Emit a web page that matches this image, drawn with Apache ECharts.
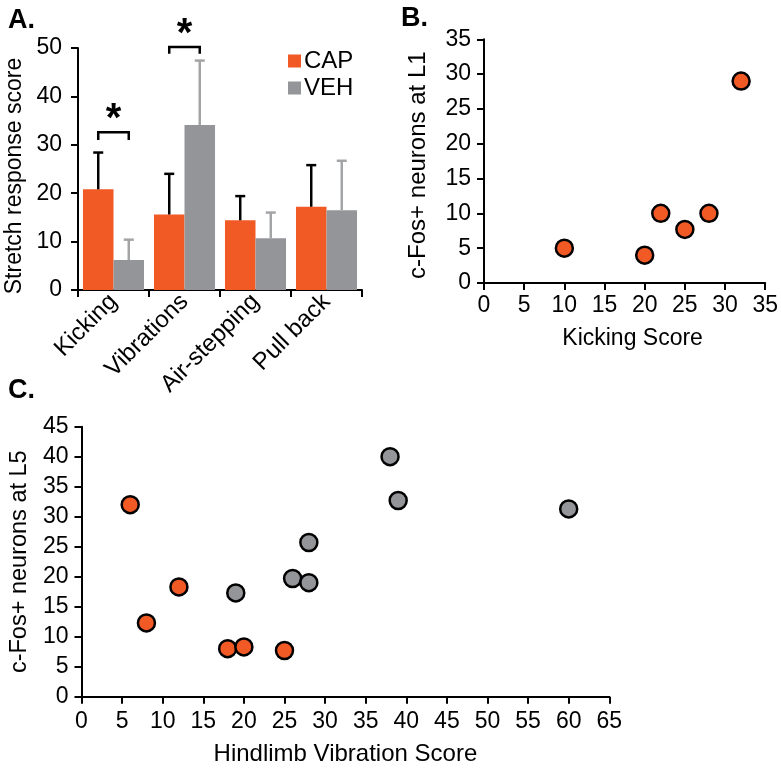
<!DOCTYPE html>
<html>
<head>
<meta charset="utf-8">
<script src="https://cdn.jsdelivr.net/npm/echarts@6/dist/echarts.min.js"></script>
<style>
html,body{margin:0;padding:0;background:#fff;}
#chart{width:781px;height:768px;}
</style>
</head>
<body>
<div id="chart"></div>
<script>
// ---- Data ----
const categories = ['Kicking', 'Vibrations', 'Air-stepping', 'Pull back'];
const capMeans = [20.8, 15.6, 14.4, 17.2];
const capErrTop = [28.4, 24.0, 19.4, 25.8];
const vehMeans = [6.2, 34.1, 10.7, 16.5];
const vehErrTop = [10.4, 47.4, 16.0, 26.7];
const sigCats = [0, 1];
const sigBracketY = [32.6, 50.2];
const sigLegY = [31.0, 48.8];
const sigStarY = [37.2, 54.8];

const kickX = [10, 20, 22, 25, 28, 32];
const kickY = [5, 4, 10, 7.7, 10, 29];

const capVibX = [6, 8, 12, 18, 20, 25];
const capVibY = [32, 12.3, 18.3, 8, 8.3, 7.7];
const vehVibX = [19, 26, 28, 28, 38, 39, 60];
const vehVibY = [17.3, 19.7, 25.7, 19, 40, 32.7, 31.3];

// ---- Style ----
const ORANGE = '#F15A24';
const GRAY = '#939598';
const GRAY_ERR = '#A3A4A6';
const FONT = 'Liberation Sans, Arial, sans-serif';
const GAP = 0.14;

const axisCommon = {
  axisLine: { show: true, lineStyle: { color: '#000', width: 2 } },
  axisTick: { show: true, length: 7, lineStyle: { color: '#000', width: 2 } },
  splitLine: { show: false },
  axisLabel: { color: '#000', fontSize: 23, fontFamily: FONT, margin: 11 },
  nameTextStyle: { color: '#000', fontSize: 21, fontFamily: FONT }
};

function errRender(isCap, color) {
  return function (params, api) {
    const c = api.coord([api.value(0), api.value(1)]);
    const t = api.coord([api.value(0), api.value(2)]);
    const band = api.size([1, 0])[0];
    const off = band * (1 - GAP) / 4 * (isCap ? -1 : 1);
    const x = c[0] + off;
    return {
      type: 'group',
      children: [
        { type: 'line', shape: { x1: x, y1: c[1], x2: x, y2: t[1] }, style: { stroke: color, lineWidth: 2.5 } },
        { type: 'line', shape: { x1: x - 5, y1: t[1], x2: x + 5, y2: t[1] }, style: { stroke: color, lineWidth: 2.5 } }
      ]
    };
  };
}

function sigRender(params, api) {
  const cat = api.value(0);
  const top = api.coord([cat, api.value(1)]);
  const leg = api.coord([cat, api.value(2)]);
  const star = api.coord([cat, api.value(3)]);
  const band = api.size([1, 0])[0];
  const off = band * (1 - GAP) / 4;
  const x1 = top[0] - off, x2 = top[0] + off;
  return {
    type: 'group',
    children: [
      { type: 'polyline', shape: { points: [[x1, leg[1]], [x1, top[1]], [x2, top[1]], [x2, leg[1]]] },
        style: { stroke: '#000', lineWidth: 2.5, fill: null } },
      { type: 'text', x: top[0], y: star[1] + 10,
        style: { text: '*', fontSize: 40, fontFamily: FONT, fontWeight: 'bold', fill: '#000', align: 'center', verticalAlign: 'middle' } }
    ]
  };
}

const chart = echarts.init(document.getElementById('chart'), null, { renderer: 'canvas' });

const option = {
  backgroundColor: '#fff',
  animation: false,
  title: [
    { text: 'A.', left: 3, top: 2, textStyle: { fontSize: 27, fontWeight: 'bold', fontFamily: FONT, color: '#000' } },
    { text: 'B.', left: 396, top: 0, textStyle: { fontSize: 27, fontWeight: 'bold', fontFamily: FONT, color: '#000' } },
    { text: 'C.', left: 3, top: 372, textStyle: { fontSize: 27, fontWeight: 'bold', fontFamily: FONT, color: '#000' } }
  ],
  legend: {
    data: ['CAP', 'VEH'],
    orient: 'vertical',
    left: 283,
    top: 44,
    itemWidth: 13,
    itemHeight: 13,
    itemGap: 3,
    icon: 'rect',
    textStyle: { fontSize: 24, fontFamily: FONT, color: '#000', padding: [0, 0, 0, -2] }
  },
  grid: [
    { left: 78, top: 48, right: 419, bottom: 478 },
    { left: 484, top: 39.3, right: 14.3, bottom: 485 },
    { left: 80, top: 426.7, right: 171.7, bottom: 71.3 }
  ],
  xAxis: [
    Object.assign({}, axisCommon, {
      gridIndex: 0, type: 'category', data: categories,
      axisTick: { show: true, length: 7, alignWithLabel: false, lineStyle: { color: '#000', width: 2 } },
      axisLabel: { color: '#000', fontSize: 24, fontFamily: FONT, rotate: 45, margin: 8, interval: 0 }
    }),
    Object.assign({}, axisCommon, {
      gridIndex: 1, type: 'value', min: 0, max: 35, interval: 5,
      name: 'Kicking Score', nameLocation: 'middle', nameGap: 44,
      nameTextStyle: { color: '#000', fontSize: 23, fontFamily: FONT, padding: [0, 0, 0, 16] }
    }),
    Object.assign({}, axisCommon, {
      gridIndex: 2, type: 'value', min: 0, max: 65, interval: 5,
      name: 'Hindlimb Vibration Score', nameLocation: 'middle', nameGap: 46,
      axisLabel: { color: '#000', fontSize: 23, fontFamily: FONT, margin: 13 },
      nameTextStyle: { color: '#000', fontSize: 24, fontFamily: FONT }
    })
  ],
  yAxis: [
    Object.assign({}, axisCommon, {
      gridIndex: 0, type: 'value', min: 0, max: 50, interval: 10,
      name: 'Stretch response score', nameLocation: 'middle', nameGap: 52,
      axisLabel: { color: '#000', fontSize: 23, fontFamily: FONT, margin: 16 },
      nameTextStyle: { color: '#000', fontSize: 23, fontFamily: FONT, padding: [0, 14, 0, 0] }
    }),
    Object.assign({}, axisCommon, {
      gridIndex: 1, type: 'value', min: 0, max: 35, interval: 5,
      name: 'c-Fos+ neurons at L1', nameLocation: 'middle', nameGap: 54,
      axisLabel: { color: '#000', fontSize: 23, fontFamily: FONT, margin: 13 },
      nameTextStyle: { color: '#000', fontSize: 24, fontFamily: FONT, padding: [0, 8, 0, 0] }
    }),
    Object.assign({}, axisCommon, {
      gridIndex: 2, type: 'value', min: 0, max: 45, interval: 5,
      name: 'c-Fos+ neurons at L5', nameLocation: 'middle', nameGap: 48,
      axisLabel: { color: '#000', fontSize: 23, fontFamily: FONT, margin: 13 },
      nameTextStyle: { color: '#000', fontSize: 23.5, fontFamily: FONT }
    })
  ],
  series: [
    { name: 'CAP', type: 'bar', xAxisIndex: 0, yAxisIndex: 0, data: capMeans,
      barGap: '0%', barCategoryGap: (GAP * 100) + '%', itemStyle: { color: ORANGE } },
    { name: 'VEH', type: 'bar', xAxisIndex: 0, yAxisIndex: 0, data: vehMeans,
      barGap: '0%', barCategoryGap: (GAP * 100) + '%', itemStyle: { color: GRAY } },
    { name: 'CAP err', type: 'custom', xAxisIndex: 0, yAxisIndex: 0, z: 5,
      data: capMeans.map((m, i) => [i, m, capErrTop[i]]),
      renderItem: errRender(true, '#000') },
    { name: 'VEH err', type: 'custom', xAxisIndex: 0, yAxisIndex: 0, z: 5,
      data: vehMeans.map((m, i) => [i, m, vehErrTop[i]]),
      renderItem: errRender(false, GRAY_ERR) },
    { name: 'sig', type: 'custom', xAxisIndex: 0, yAxisIndex: 0, z: 6, clip: false,
      data: sigCats.map((c, i) => [c, sigBracketY[i], sigLegY[i], sigStarY[i]]),
      renderItem: sigRender },
    { name: 'Kicking', type: 'scatter', xAxisIndex: 1, yAxisIndex: 1, symbolSize: 17,
      data: kickX.map((x, i) => [x, kickY[i]]),
      itemStyle: { color: ORANGE, borderColor: '#000', borderWidth: 2.5, opacity: 1 } },
    { name: 'CAP', type: 'scatter', xAxisIndex: 2, yAxisIndex: 2, symbolSize: 17,
      data: capVibX.map((x, i) => [x, capVibY[i]]),
      itemStyle: { color: ORANGE, borderColor: '#000', borderWidth: 2.5, opacity: 1 } },
    { name: 'VEH', type: 'scatter', xAxisIndex: 2, yAxisIndex: 2, symbolSize: 17,
      data: vehVibX.map((x, i) => [x, vehVibY[i]]),
      itemStyle: { color: GRAY, borderColor: '#000', borderWidth: 2.5, opacity: 1 } }
  ]
};
chart.setOption(option);
</script>
</body>
</html>
